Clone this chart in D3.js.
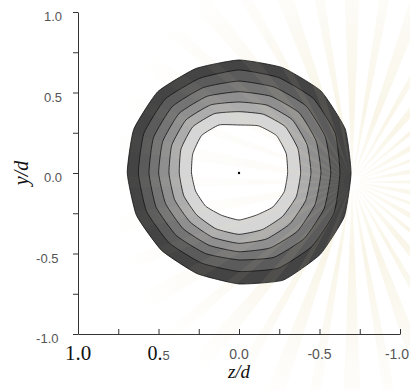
<!DOCTYPE html>
<html>
<head>
<meta charset="utf-8">
<script src="https://cdn.jsdelivr.net/npm/d3@7"></script>
<style>
  body { margin: 0; background: #ffffff; }
  svg { display: block; }
</style>
</head>
<body>
<svg id="chart" width="410" height="390"></svg>
<script>
// Directions (degrees in the z–y plane, 0° = +z, 90° = +y) at which each contour is sampled
const angles = [0, 22.5, 45, 67.5, 90, 112.5, 135, 157.5, 180, 202.5, 225, 247.5, 270, 292.5, 315, 337.5];

// Contour radii (in units of d) from the centre, outermost contour first
const contour0 = [0.694, 0.708, 0.714, 0.702, 0.702, 0.708, 0.720, 0.714, 0.696, 0.708, 0.714, 0.720, 0.689, 0.677, 0.680, 0.689];
const contour1 = [0.625, 0.640, 0.649, 0.637, 0.640, 0.642, 0.654, 0.647, 0.627, 0.640, 0.643, 0.640, 0.612, 0.606, 0.614, 0.622];
const contour2 = [0.559, 0.575, 0.585, 0.575, 0.571, 0.577, 0.589, 0.581, 0.570, 0.573, 0.574, 0.567, 0.540, 0.542, 0.550, 0.557];
const contour3 = [0.499, 0.513, 0.525, 0.516, 0.505, 0.516, 0.529, 0.519, 0.509, 0.511, 0.512, 0.504, 0.489, 0.486, 0.490, 0.494];
const contour4 = [0.435, 0.452, 0.466, 0.458, 0.441, 0.456, 0.468, 0.458, 0.447, 0.448, 0.447, 0.444, 0.437, 0.432, 0.430, 0.433];
const contour5 = [0.371, 0.390, 0.406, 0.399, 0.381, 0.395, 0.407, 0.396, 0.383, 0.385, 0.382, 0.380, 0.381, 0.375, 0.370, 0.371];
const contour6 = [0.295, 0.311, 0.329, 0.323, 0.298, 0.317, 0.329, 0.317, 0.302, 0.304, 0.298, 0.283, 0.292, 0.284, 0.292, 0.292];
const contours = [contour0, contour1, contour2, contour3, contour4, contour5, contour6];

// Centre of the section
const centre = [0, 0];

// Axis ticks and their labels
const xTicks = [1, 0.75, 0.5, 0.25, 0, -0.25, -0.5, -0.75, -1];
const xLabels = ["1.0", "", "0.5", "", "0.0", "", "-0.5", "", "-1.0"];
const yTicks = [-1, -0.75, -0.5, -0.25, 0, 0.25, 0.5, 0.75, 1];
const yLabels = ["-1.0", "", "-0.5", "", "0.0", "", "0.5", "", "1.0"];

// ---------------------------------------------------------------
const svg = d3.select("#chart");
const SANS = "'Liberation Sans', Arial, sans-serif";
const SERIF = "'Liberation Serif', 'Times New Roman', serif";

const x = d3.scaleLinear().domain([1, -1]).range([78, 400]);
const y = d3.scaleLinear().domain([-1, 1]).range([334, 12]);

// grey ramp, darkest band outside, white core
const fills = ["#444444", "#5b5b5b", "#747474", "#8f8f8f", "#acacac", "#d6d6d6", "#ffffff"];

// faint page emblem rays behind (and lightly over) the plot
const defs = svg.append("defs");
const wmC = [352, 182];
const grad = defs.append("radialGradient")
  .attr("id", "wm").attr("gradientUnits", "userSpaceOnUse")
  .attr("cx", 0).attr("cy", 0).attr("r", 240);
grad.append("stop").attr("offset", "0%").attr("stop-color", "#f3e9c8").attr("stop-opacity", 0.12);
grad.append("stop").attr("offset", "30%").attr("stop-color", "#efe2b8").attr("stop-opacity", 0.26);
grad.append("stop").attr("offset", "65%").attr("stop-color", "#f2e8c8").attr("stop-opacity", 0.16);
grad.append("stop").attr("offset", "100%").attr("stop-color", "#f6efd9").attr("stop-opacity", 0);

function drawRays(parent, opacity) {
  const arc = d3.arc().innerRadius(8).outerRadius(250);
  const g = parent.append("g")
    .attr("transform", `translate(${wmC[0]},${wmC[1]})`)
    .attr("opacity", opacity);
  d3.range(0, 360, 10).forEach((a, i) => {
    const w = i % 2 ? 3 : 4.5;
    g.append("path")
      .attr("d", arc({ startAngle: (a - w / 2) * Math.PI / 180, endAngle: (a + w / 2) * Math.PI / 180 }))
      .attr("fill", "url(#wm)");
  });
}

drawRays(svg, 1);

// filled contour bands
const ring = d3.line()
  .x(p => x(p[0]))
  .y(p => y(p[1]))
  .curve(d3.curveCardinalClosed.tension(0.55));

const gC = svg.append("g").attr("class", "contours");
contours.forEach((radii, i) => {
  const pts = radii.map((r, k) => {
    const a = angles[k] * Math.PI / 180;
    return [centre[0] + r * Math.cos(a), centre[1] + r * Math.sin(a)];
  });
  gC.append("path")
    .attr("d", ring(pts))
    .attr("fill", fills[i])
    .attr("stroke", "#111")
    .attr("stroke-width", 0.8)
    .attr("stroke-linejoin", "round");
});

gC.append("circle")
  .attr("cx", x(centre[0])).attr("cy", y(centre[1]))
  .attr("r", 1.2).attr("fill", "#000");

// light sheen of the emblem over the bands
drawRays(svg, 0.35);

// axes
const axisColor = "#333";
const gy = svg.append("g").attr("transform", `translate(${x(1)},0)`)
  .call(d3.axisLeft(y).tickValues(yTicks).tickSize(5).tickSizeOuter(0).tickFormat(""));
const gx = svg.append("g").attr("transform", `translate(0,${y(-1)})`)
  .call(d3.axisTop(x).tickValues(xTicks).tickSize(5).tickSizeOuter(0).tickFormat(""));
[gy, gx].forEach(g => {
  g.select(".domain").attr("stroke", axisColor);
  g.selectAll(".tick line").attr("stroke", axisColor);
});

// y tick labels
yTicks.forEach((v, i) => {
  if (!yLabels[i]) return;
  svg.append("text")
    .attr("x", v < 0 ? 58.5 : 62)
    .attr("y", y(v) + 9)
    .attr("text-anchor", "end")
    .attr("font-family", SANS)
    .attr("font-size", 13)
    .attr("fill", "#555")
    .text(yLabels[i]);
});

// x tick labels
xTicks.forEach((v, i) => {
  const lab = xLabels[i];
  if (!lab) return;
  const t = svg.append("text")
    .attr("x", x(v))
    .attr("y", 359)
    .attr("text-anchor", "middle");
  if (v === 1) {
    t.attr("y", 360).attr("font-family", SERIF).attr("font-size", 21).attr("fill", "#111").text(lab);
  } else if (v === 0.5) {
    t.attr("y", 360);
    t.append("tspan").attr("font-family", SERIF).attr("font-size", 20).attr("fill", "#111").text(lab.slice(0, 2));
    t.append("tspan").attr("font-family", SANS).attr("font-size", 13).attr("fill", "#555").text(lab.slice(2));
  } else if (v === -1) {
    t.attr("x", 409).attr("text-anchor", "end")
      .attr("font-family", SANS).attr("font-size", 14).attr("fill", "#555").text(lab);
  } else {
    t.attr("font-family", SANS).attr("font-size", 14).attr("fill", "#555").text(lab);
  }
});

// axis titles
svg.append("text")
  .attr("x", x(0)).attr("y", 378)
  .attr("text-anchor", "middle")
  .attr("font-family", SERIF).attr("font-style", "italic")
  .attr("font-size", 19).attr("fill", "#111")
  .text("z/d");

svg.append("text")
  .attr("transform", `translate(28,${y(0)}) rotate(-90)`)
  .attr("text-anchor", "middle")
  .attr("font-family", SERIF).attr("font-style", "italic")
  .attr("font-size", 20).attr("fill", "#111")
  .text("y/d");
</script>
</body>
</html>
